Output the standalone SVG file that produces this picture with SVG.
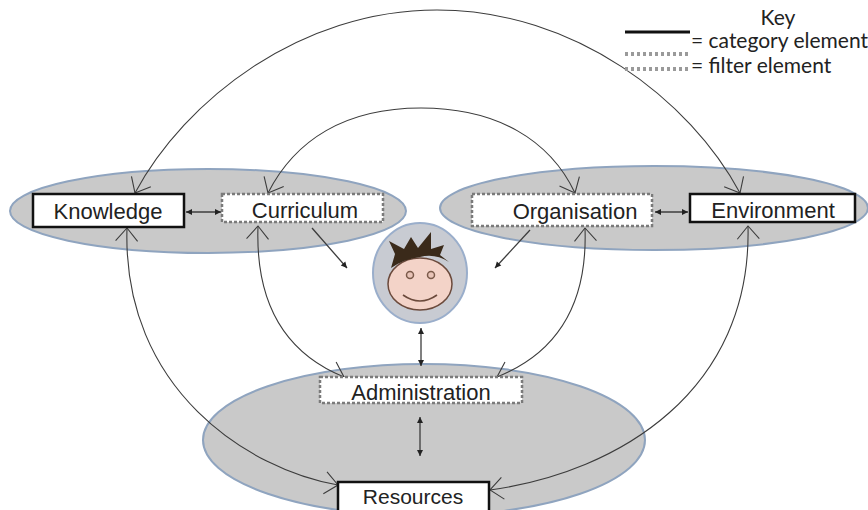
<svg xmlns="http://www.w3.org/2000/svg" width="868" height="510" viewBox="0 0 868 510">
  <style>
    .cluster { fill: #c9c9c9; stroke: #8fa4bf; stroke-width: 2; }
    .cat { fill: #ffffff; stroke: #111111; stroke-width: 2.5; }
    .filt { fill: #ffffff; stroke: #7a7a7a; stroke-width: 2.5; stroke-dasharray: 3 2; }
    .lbl { font-family: "Liberation Sans", Arial, sans-serif; font-size: 22px; fill: #222222; text-anchor: middle; }
    .key { font-family: Lato, "Open Sans", sans-serif; font-size: 21px; fill: #222222; }
    .arc { fill: none; stroke: #3c3c3c; stroke-width: 1.1; marker-start: url(#vee); marker-end: url(#vee); }
    .small { fill: none; stroke: #3c3c3c; stroke-width: 1.3; }
  </style>
  <defs>
    <marker id="vee" viewBox="-16 -13 18 26" refX="0" refY="0" markerWidth="18" markerHeight="26" markerUnits="userSpaceOnUse" orient="auto-start-reverse">
      <path d="M-13,-11 L0,0 L-13,11" fill="none" stroke="#3c3c3c" stroke-width="1.1"/>
    </marker>
    <marker id="tip" viewBox="-7 -4 8 8" refX="0" refY="0" markerWidth="8" markerHeight="8" markerUnits="userSpaceOnUse" orient="auto-start-reverse">
      <path d="M-6,-3 L0,0 L-6,3 Z" fill="#222222"/>
    </marker>
  </defs>

  <rect width="868" height="510" fill="#ffffff"/>

  <g id="clusters">
    <ellipse class="cluster" cx="208" cy="211" rx="198" ry="42"/>
    <ellipse class="cluster" cx="654" cy="208" rx="214" ry="42"/>
    <ellipse class="cluster" cx="424" cy="440" rx="221" ry="76"/>
  </g>

  <g id="connectors">
    <path class="arc" d="M135,193 C185,100 300,10 437,10 C575,10 690,100 740,193"/>
    <path class="arc" d="M268,193 C295,140 345,108 421,108 C497,108 550,140 575,193"/>
    <path class="arc" d="M127,228 C122,390 250,470 338,485"/>
    <path class="arc" d="M258,226 C255,310 290,355 344,377"/>
    <path class="arc" d="M585,228 C588,310 552,355 497,377"/>
    <path class="arc" d="M748,226 C752,390 620,472 490,490"/>
    <path class="small" d="M312,228 L347,268" marker-end="url(#tip)"/>
    <path class="small" d="M530,230 L495,268" marker-end="url(#tip)"/>
    <path class="small" d="M186,212 L221,212" marker-start="url(#tip)" marker-end="url(#tip)"/>
    <path class="small" d="M655,212 L688,212" marker-start="url(#tip)" marker-end="url(#tip)"/>
    <path class="small" d="M421,328 L421,366" marker-start="url(#tip)" marker-end="url(#tip)"/>
    <path class="small" d="M420,417 L420,456" marker-start="url(#tip)" marker-end="url(#tip)"/>
  </g>

  <g id="knowledge">
    <rect class="cat" x="33" y="194" width="151" height="33"/>
    <text class="lbl" x="108" y="219">Knowledge</text>
  </g>
  <g id="curriculum">
    <rect class="filt" x="222" y="194" width="161" height="28"/>
    <text class="lbl" x="305" y="218">Curriculum</text>
  </g>
  <g id="organisation">
    <rect class="filt" x="472" y="194" width="180" height="32"/>
    <text class="lbl" x="575" y="219">Organisation</text>
  </g>
  <g id="environment">
    <rect class="cat" x="690" y="194" width="165" height="28"/>
    <text class="lbl" x="773" y="218">Environment</text>
  </g>
  <g id="administration">
    <rect class="filt" x="320" y="377" width="202" height="26"/>
    <text class="lbl" x="421" y="400">Administration</text>
  </g>
  <g id="resources">
    <rect class="cat" x="338" y="482" width="151" height="36"/>
    <text class="lbl" x="413" y="504" style="font-size:21px">Resources</text>
  </g>

  <g id="learner">
    <ellipse cx="420" cy="273" rx="47" ry="50" fill="#c8cbd2" stroke="#9aaecb" stroke-width="2"/>
    <ellipse cx="420" cy="284" rx="32" ry="26" fill="#f3d3c8" stroke="#6b4a3c" stroke-width="1.5"/>
    <path d="M391,268 L395,254 L389,241 L404,249 L411,237 L418,248 L431,232 L431,249 L444,245 L440,255 L449,262 Q435,253 420,257 Q404,259 391,268 Z" fill="#3a2a1a"/>
    <circle cx="410" cy="275" r="3.5" fill="#e8c4b8" stroke="#7a5a4a" stroke-width="1.5"/>
    <circle cx="431" cy="275" r="3.5" fill="#e8c4b8" stroke="#7a5a4a" stroke-width="1.5"/>
    <path d="M403,295 Q420,307 437,295" fill="none" stroke="#6b4a3c" stroke-width="1.6"/>
  </g>

  <g id="legend">
    <text class="key" x="778" y="25" text-anchor="middle">Key</text>
    <line x1="625" y1="32" x2="690" y2="32" stroke="#111111" stroke-width="3"/>
    <text class="key" x="691" y="48">= category element</text>
    <line x1="625" y1="54" x2="688" y2="54" stroke="#9a9a9a" stroke-width="4" stroke-dasharray="3 3"/>
    <line x1="625" y1="69" x2="688" y2="69" stroke="#9a9a9a" stroke-width="4" stroke-dasharray="3 3"/>
    <text class="key" x="691" y="73">= filter element</text>
  </g>
</svg>
